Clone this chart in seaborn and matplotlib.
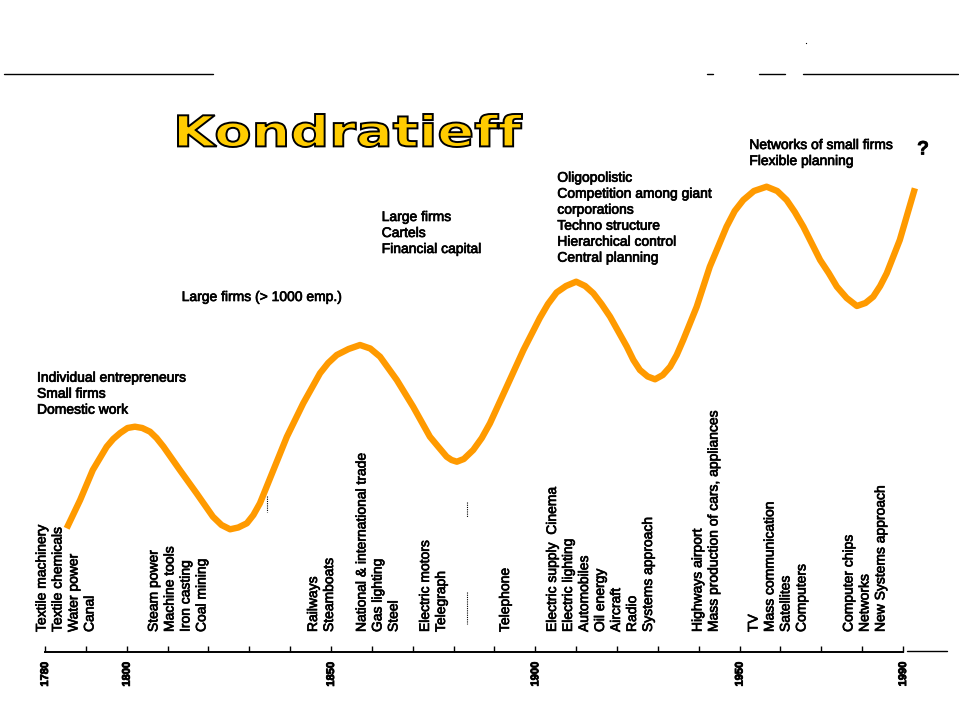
import numpy as np
import pandas as pd
import matplotlib
matplotlib.use('Agg')
import matplotlib.pyplot as plt
import matplotlib.transforms as mtransforms
import matplotlib.patheffects as pe
from matplotlib.textpath import TextPath
from matplotlib.patches import PathPatch
from matplotlib.font_manager import FontProperties
import seaborn as sns

# long wave (level = height above the time axis)
curve_years = [1785.3, 1788.6, 1791.7, 1795.1, 1796.7, 1798.4, 1800.2, 1802.0, 1803.8, 1805.7,
               1807.3, 1809.0, 1813.0, 1817.1, 1819.1, 1821.1, 1823.2, 1825.3, 1827.3, 1829.4,
               1831.0, 1832.6, 1835.9, 1839.2, 1843.2, 1847.3, 1849.3, 1851.4, 1854.3, 1857.1,
               1859.6, 1862.0, 1866.1, 1870.1, 1874.2, 1876.3, 1878.3, 1879.5, 1880.8, 1882.5,
               1884.8, 1886.9, 1888.9, 1893.0, 1897.1, 1901.1, 1903.1, 1905.2, 1907.5, 1910.0,
               1912.2, 1914.2, 1916.2, 1918.3, 1922.4, 1924.0, 1925.6, 1927.5, 1929.3, 1931.2,
               1933.0, 1934.6, 1936.2, 1939.5, 1942.7, 1946.8, 1948.8, 1950.9, 1953.5, 1956.6,
               1959.2, 1961.5, 1963.5, 1965.6, 1969.7, 1971.8, 1973.8, 1976.2, 1978.7, 1980.8,
               1982.7, 1984.4, 1986.0, 1989.2, 1992.9]
curve_level = [123.7, 152, 182, 205.3, 213, 219, 224, 225.3, 224, 220.3,
               214, 205.3, 182, 158.7, 147, 135.3, 127, 122.7, 124.5, 128.7,
               137, 148.7, 182, 215.3, 248.7, 278.7, 289, 297, 303, 307,
               303.5, 295.3, 272, 245.3, 215.3, 205, 195.3, 192, 190.3, 193,
               202, 214, 228.7, 265.3, 302, 334, 348, 359.5, 366, 370.3,
               366, 358.7, 348, 335.3, 305.3, 292, 282, 275.5, 272.7, 277,
               285.3, 297, 312, 345.3, 385.3, 425.3, 441, 452, 461, 465.3,
               461, 452, 440, 425.3, 392, 379, 365.3, 354, 346, 349,
               355.3, 366, 378.7, 412, 463.7]

tick_years = list(range(1780, 1991, 10))
labelled_years = [1780, 1800, 1850, 1900, 1950, 1990]

title = 'Kondratieff'

# organisation of firms, per wave
org_1 = ['Individual entrepreneurs', 'Small firms', 'Domestic work']
org_2 = ['Large firms (> 1000 emp.)']
org_3 = ['Large firms', 'Cartels', 'Financial capital']
org_4 = ['Oligopolistic', 'Competition among giant', 'corporations',
         'Techno structure', 'Hierarchical control', 'Central planning']
org_5 = ['Networks of small firms', 'Flexible planning']

# technologies, per wave
tech_1a = ['Textile machinery', 'Textile chemicals', 'Water power', 'Canal']
tech_1b = ['Steam power', 'Machine tools', 'Iron casting', 'Coal mining']
tech_2a = ['Railways', 'Steamboats']
tech_2b = ['National & international trade', 'Gas lighting', 'Steel']
tech_3a = ['Electric motors', 'Telegraph']
tech_3b = ['Telephone']
tech_4a = ['Electric supply  Cinema', 'Electric lighting', 'Automobiles', 'Oil energy',
           'Aircraft', 'Radio', 'Systems approach']
tech_4b = ['Highways airport', 'Mass production of cars, appliances']
tech_5a = ['TV', 'Mass communication', 'Satellites', 'Computers']
tech_5b = ['Computer chips', 'Networks', 'New Systems approach']

sns.set_theme(style='white')
plt.rcParams['font.family'] = ['Liberation Sans', 'DejaVu Sans']

W, H = 959, 719
fig = plt.figure(figsize=(W / 100, H / 100), dpi=100)
fig.patch.set_facecolor('white')

axis_y = 652          # pixel row of the time axis
x0_pix, px_per_year = 45, 4.086

ax = fig.add_axes([0, (H - axis_y) / H, 1, axis_y / H])
ax.set_xlim(1780 - x0_pix / px_per_year, 1780 + (W - x0_pix) / px_per_year)
ax.set_ylim(0, axis_y)
ax.set_facecolor('white')

df = pd.DataFrame({'year': curve_years, 'level': curve_level})
sns.lineplot(data=df, x='year', y='level', sort=False, estimator=None, ax=ax,
             color='#FF9A00', linewidth=4.6)
ax.lines[0].set_solid_capstyle('butt')
ax.lines[0].set_solid_joinstyle('round')

heavy = [pe.withStroke(linewidth=0.5, foreground='black')]

# time axis
for s in ['top', 'left', 'right']:
    ax.spines[s].set_visible(False)
ax.spines['bottom'].set_bounds(1780, 1990)
ax.spines['bottom'].set_linewidth(1.4)
ax.spines['bottom'].set_color('black')
ax.set_xticks(tick_years)
ax.set_xticklabels([str(y) if y in labelled_years else '' for y in tick_years],
                   rotation=90, fontsize=8, fontweight='bold', color='black')
for lab in ax.get_xticklabels():
    lab.set_path_effects([pe.withStroke(linewidth=0.6, foreground='black')])
ax.tick_params(axis='x', direction='in', length=4.6, width=1.0, color='black',
               labelcolor='black', pad=7, bottom=True)
ax.set_yticks([])
ax.set_xlabel('')
ax.set_ylabel('')

# pixel coordinates (y down from top) for the annotations
px = mtransforms.Affine2D().scale(1 / W, -1 / H).translate(0, 1) + fig.transFigure
pxup = mtransforms.Affine2D().scale(1 / W, 1 / H) + fig.transFigure

# short line right of the axis
ax.plot([907, 947], [651, 651], color='black', lw=1.0, transform=px, clip_on=False)

# header rules
for a, b in [(4, 213), (707, 713), (759, 785), (803, 958)]:
    ax.plot([a, b], [74, 74], color='black', lw=1.0, transform=px, clip_on=False)
ax.plot([806], [43], marker='s', ms=0.8, mew=0, color='black', transform=px, clip_on=False)

# dotted markers
for xx, ya, yb in [(266.7, 496, 512), (466.7, 502, 517), (466.7, 592, 624)]:
    ax.plot([xx, xx], [ya, yb], color='black', lw=0.8, ls=(0, (1, 1)),
            transform=px, clip_on=False)

# title, stretched heavy lettering
tp = TextPath((0, 0), title, size=40, prop=FontProperties(family='DejaVu Sans', weight='bold'))
ext = tp.get_extents()
tr = mtransforms.Affine2D().translate(-ext.x0, -ext.y0) \
    .scale(344 / ext.width, 33 / ext.height).translate(178, H - 147)
ax.add_patch(PathPatch(tr.transform_path(tp), facecolor='#FFCC00', edgecolor='black',
                       lw=1.4, transform=pxup, clip_on=False))


def text_block(lines, x, y_base, step=16):
    for i, t in enumerate(lines):
        ax.text(x, y_base + i * step, t, transform=px, fontsize=10, color='black',
                ha='left', va='baseline', path_effects=heavy)


text_block(org_1, 37, 381.7)
text_block(org_2, 181.7, 301)
text_block(org_3, 381.7, 221)
text_block(org_4, 557.3, 181.7)
text_block(org_5, 749.3, 149)
ax.text(923, 150, '?', transform=px, fontsize=14, fontweight='bold', color='black',
        ha='center', va='center', path_effects=heavy)


def vert_block(lines, x_first, step=16, y_bottom=632):
    for i, t in enumerate(lines):
        ax.text(x_first + i * step, y_bottom, t, transform=px, fontsize=10, color='black',
                rotation=90, rotation_mode='anchor', ha='left', va='baseline',
                path_effects=heavy)


vert_block(tech_1a, 45.5)
vert_block(tech_1b, 157.5)
vert_block(tech_2a, 317)
vert_block(tech_2b, 365.5)
vert_block(tech_3a, 429)
vert_block(tech_3b, 509)
vert_block(tech_4a, 556)
vert_block(tech_4b, 701.5)
vert_block(tech_5a, 757.5)
vert_block(tech_5b, 852.5)

fig.savefig('out.png', dpi=100, facecolor='white')
